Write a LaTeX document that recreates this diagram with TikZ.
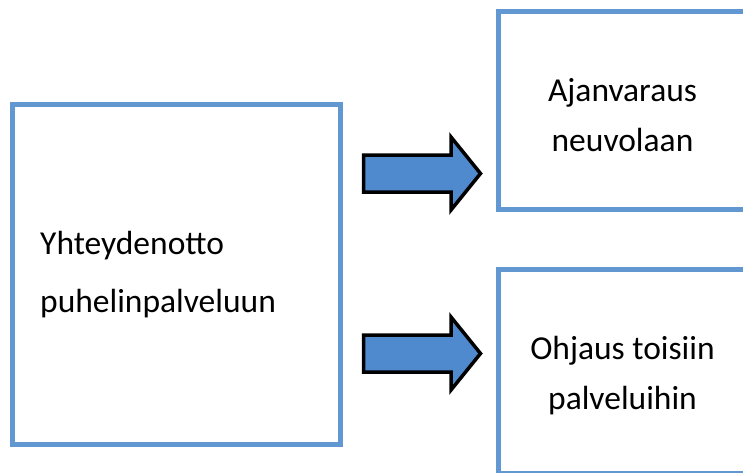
\documentclass[tikz,border=0pt]{standalone}
\usepackage{fontspec}
\setmainfont{Carlito}
\definecolor{boxblue}{RGB}{98,152,210}
\definecolor{arrowblue}{RGB}{80,138,206}
\tikzset{
  bluebox/.style={draw=boxblue, line width=5pt, fill=white, rectangle, inner sep=0pt},
  blockarrow/.style={draw=black, line width=3.5pt, fill=arrowblue, line join=miter},
  boxtext/.style={inner sep=0pt, font=\fontsize{33.5}{50}\selectfont, align=center}
}
\begin{document}
\begin{tikzpicture}[x=1pt,y=-1pt]
\useasboundingbox (0,0) rectangle (743,472);
% boxes
\node[bluebox, minimum width=328pt, minimum height=340pt] (left) at (176.5,274.5) {};
\node[bluebox, minimum width=248pt, minimum height=198pt] (top) at (622.5,110.5) {};
\node[bluebox, minimum width=248pt, minimum height=204pt] (bottom) at (622.5,371.5) {};
% texts
\node[inner sep=0pt, anchor=west, align=left, font=\fontsize{33.5}{58}\selectfont] (lefttext) at (40,275) {Yhteydenotto\\puhelinpalveluun};
\node[boxtext] (toptext) at (622.5,115) {Ajanvaraus\\neuvolaan};
\node[boxtext] (bottomtext) at (622.5,376) {Ohjaus toisiin\\palveluihin};
% block arrows
\draw[blockarrow] (363.5,155) -- (451,155) -- (451,137) -- (480.5,173.5) -- (451,210) -- (451,192) -- (363.5,192) -- cycle;
\draw[blockarrow] (363.5,335) -- (451,335) -- (451,317) -- (480.5,353.5) -- (451,390) -- (451,372) -- (363.5,372) -- cycle;
\end{tikzpicture}
\end{document}
